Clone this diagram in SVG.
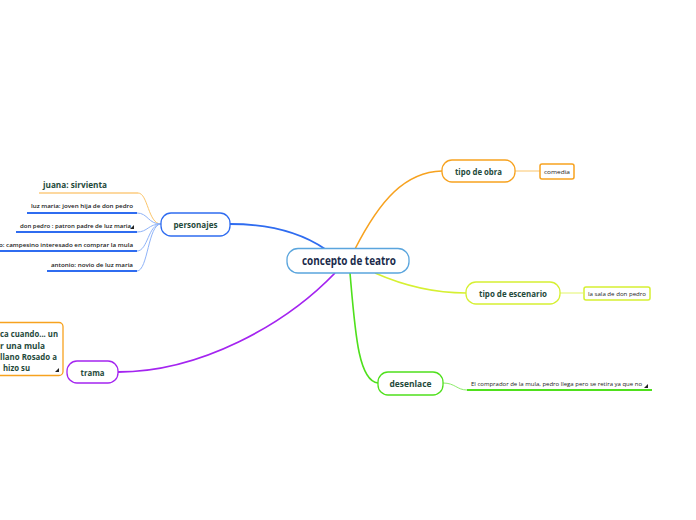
<svg xmlns="http://www.w3.org/2000/svg" width="696" height="520" viewBox="0 0 696 520">
<style>
.node{fill:#fff;stroke-width:1.3}
.lbl{font-family:"Open Sans","Noto Sans",sans-serif;font-weight:700;fill:#1f4a3b;text-anchor:middle}
.sm{font-family:"Open Sans","Noto Sans",sans-serif;font-weight:600;font-size:6px;fill:#1a1a1a;text-anchor:end}
.leaf{font-family:"Open Sans","Noto Sans",sans-serif;font-size:6px;fill:#222}
.c{fill:none}
.tri{fill:#222}
</style>
<rect width="696" height="520" fill="#fff"/>
<g id="connectors">
<path class="c" d="M230,224 C270,224 300,232 325,249" stroke="#2f6cf0" stroke-width="1.8"/>
<path class="c" d="M355,249 C380,200 405,172 442,171" stroke="#f7a21f" stroke-width="1.6"/>
<path class="c" d="M375,273 C400,284 430,293 466,293" stroke="#d6f032" stroke-width="1.6"/>
<path class="c" d="M350,273 C355,330 358,381 378,383" stroke="#4fe01c" stroke-width="1.6"/>
<path class="c" d="M335,273 C285,325 200,372 118,372" stroke="#a424f0" stroke-width="1.8"/>
<path class="c" d="M515,171 L540,171" stroke="#fbc56a" stroke-width="1"/>
<path class="c" d="M560,293 L583,293" stroke="#e3f56a" stroke-width="1"/>
<path class="c" d="M443,383 C455,383 457,390 467,390" stroke="#8ceb6a" stroke-width="1"/>
<path class="c" d="M161,224 C148,224 148,193 138,193" stroke="#fbc56a" stroke-width="1"/>
<path class="c" d="M161,224 C148,224 148,213 137,213" stroke="#8fb3f8" stroke-width="1"/>
<path class="c" d="M161,224 C148,224 148,232 137,232" stroke="#8fb3f8" stroke-width="1"/>
<path class="c" d="M161,224 C148,224 148,251 137,251" stroke="#8fb3f8" stroke-width="1"/>
<path class="c" d="M161,224 C148,224 148,271 137,271" stroke="#8fb3f8" stroke-width="1"/>
<path class="c" d="M39,193 L138,193" stroke="#fbb140" stroke-width="1.2"/>
<path class="c" d="M27,213 L137,213" stroke="#2f6cf0" stroke-width="2"/>
<path class="c" d="M16,232 L137,232" stroke="#2f6cf0" stroke-width="2"/>
<path class="c" d="M0,251 L137,251" stroke="#2f6cf0" stroke-width="2"/>
<path class="c" d="M47,271 L137,271" stroke="#2f6cf0" stroke-width="2"/>
<path class="c" d="M467,390 L652,390" stroke="#4fe01c" stroke-width="2"/>
</g>
<g id="central">
<rect class="node" x="287" y="248.5" width="122" height="24.5" rx="11" stroke="#5aa5dd"/>
<text class="lbl" x="349" y="265" font-size="11.5" style="fill:#1b2b4b" textLength="94" lengthAdjust="spacingAndGlyphs">concepto de teatro</text>
</g>
<g id="personajes">
<rect class="node" x="161" y="213" width="69" height="23" rx="10" stroke="#2f6cf0"/>
<text class="lbl" x="195.5" y="228" font-size="9.5" textLength="44" lengthAdjust="spacingAndGlyphs">personajes</text>
</g>
<g id="juana">
<text x="107" y="188" font-family="'Open Sans','Noto Sans',sans-serif" font-weight="700" font-size="9" fill="#1f4a3b" text-anchor="end" textLength="64" lengthAdjust="spacingAndGlyphs">juana: sirvienta</text>
</g>
<g id="luzmaria">
<text class="sm" x="133" y="208" textLength="102" lengthAdjust="spacingAndGlyphs">luz maria: joven hija de don pedro</text>
</g>
<g id="donpedro">
<text class="sm" x="131" y="228" textLength="111" lengthAdjust="spacingAndGlyphs">don pedro : patron padre de luz maria</text>
<path class="tri" d="M134,225 L134,229 L130,229 Z"/>
</g>
<g id="campesino">
<text class="sm" x="133" y="247" textLength="134" lengthAdjust="spacingAndGlyphs">o: campesino interesado en comprar la mula</text>
</g>
<g id="antonio">
<text class="sm" x="133" y="267" textLength="82" lengthAdjust="spacingAndGlyphs">antonio: novio de luz maria</text>
</g>
<g id="tipo-obra">
<rect class="node" x="442" y="160" width="73" height="22" rx="10" stroke="#f7a21f"/>
<text class="lbl" x="478.5" y="175" font-size="9" textLength="47" lengthAdjust="spacingAndGlyphs">tipo de obra</text>
</g>
<g id="comedia">
<rect x="540" y="164" width="34" height="15" rx="2" fill="#fff" stroke="#f7a21f" stroke-width="1.5"/>
<text class="leaf" x="557" y="174" text-anchor="middle" textLength="26" lengthAdjust="spacingAndGlyphs">comedia</text>
</g>
<g id="tipo-escenario">
<rect class="node" x="466" y="282" width="94" height="22" rx="10" stroke="#d6f032"/>
<text class="lbl" x="513" y="296.5" font-size="9" textLength="68" lengthAdjust="spacingAndGlyphs">tipo de escenario</text>
</g>
<g id="sala">
<rect x="584" y="287" width="66" height="13" rx="2" fill="#fff" stroke="#d6f032" stroke-width="1.5"/>
<text class="leaf" x="617" y="296" text-anchor="middle" textLength="58" lengthAdjust="spacingAndGlyphs">la sala de don pedro</text>
</g>
<g id="desenlace">
<rect class="node" x="378" y="372" width="65" height="23" rx="10" stroke="#4fe01c"/>
<text class="lbl" x="410.5" y="387" font-size="9" textLength="42" lengthAdjust="spacingAndGlyphs">desenlace</text>
</g>
<g id="desenlace-text">
<text class="leaf" x="471" y="386" textLength="171" lengthAdjust="spacingAndGlyphs">El comprador de la mula, pedro llega pero se retira ya que no</text>
<path class="tri" d="M648,384 L648,388 L644,388 Z"/>
</g>
<g id="trama">
<rect class="node" x="67" y="361" width="51" height="22" rx="10" stroke="#a424f0"/>
<text class="lbl" x="92.5" y="376" font-size="9" textLength="24" lengthAdjust="spacingAndGlyphs">trama</text>
</g>
<g id="trama-text">
<rect x="-20" y="322.5" width="83" height="53" rx="4" fill="#fff" stroke="#f7a21f" stroke-width="1.3"/>
<g font-family="'Open Sans','Noto Sans',sans-serif" font-weight="700" font-size="8.5" fill="#1f4a3b">
<text x="0" y="337" textLength="58" lengthAdjust="spacingAndGlyphs">ca cuando... un</text>
<text x="0" y="349" textLength="45" lengthAdjust="spacingAndGlyphs">r una mula</text>
<text x="0" y="360" textLength="57" lengthAdjust="spacingAndGlyphs">llano Rosado a</text>
<text x="3" y="371" textLength="27" lengthAdjust="spacingAndGlyphs">hizo su</text>
</g>
<path class="tri" d="M59,368 L59,372 L55,372 Z"/>
</g>
</svg>
